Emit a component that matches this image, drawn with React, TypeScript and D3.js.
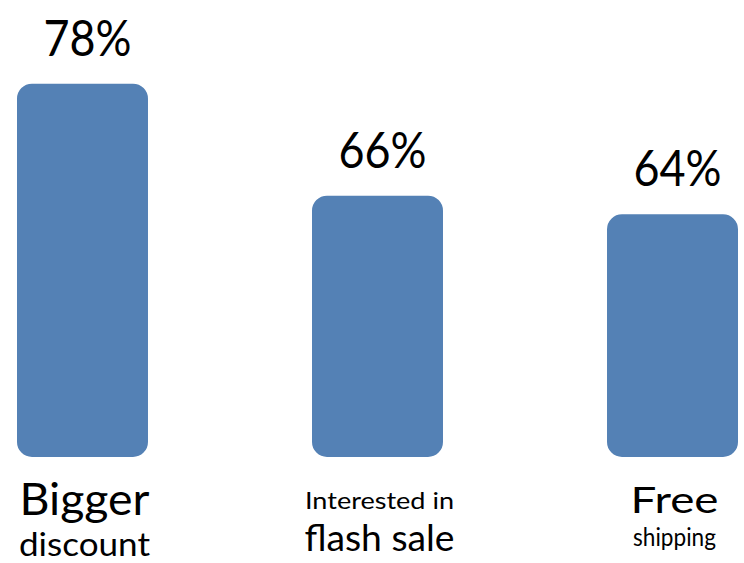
import React from "react";
import * as d3 from "d3";

const categories = ["Bigger discount", "Interested in flash sale", "Free shipping"];
const values = [78, 66, 64];
const labelLine1 = ["Bigger", "Interested in", "Free"];
const labelLine2 = ["discount", "flash sale", "shipping"];

const W = 744;
const H = 563;
const FONT = "Lato, 'Open Sans', sans-serif";
const COLOR = "#5481B5";

// per-category text styling
const line1Size = [44, 24, 37];
const line2Size = [32, 37, 25];
const line1Len = [130, 149, 88];
const line2Len = [131, 150, 83];
const line1Base = [515, 509, 513];
const line2Base = [556, 551, 546];

export default function App() {
  const x = d3.scaleBand<string>().domain(categories).range([17, 738]).paddingInner(0.556).paddingOuter(0);
  const y = d3.scaleLinear().domain([38, 80]).range([457, 65]);
  const bw = x.bandwidth();
  return (
    <svg width={W} height={H} style={{ position: "absolute", left: 0, top: 0, background: "#fff" }} fontFamily={FONT}>
      {categories.map((c, i) => {
        const x0 = x(c)!;
        const cx = x0 + bw / 2;
        const top = y(values[i]);
        const bottom = y(38);
        const r = 15;
        const p = d3.path();
        p.moveTo(x0 + r, top);
        p.lineTo(x0 + bw - r, top);
        p.arcTo(x0 + bw, top, x0 + bw, top + r, r);
        p.lineTo(x0 + bw, bottom - r);
        p.arcTo(x0 + bw, bottom, x0 + bw - r, bottom, r);
        p.lineTo(x0 + r, bottom);
        p.arcTo(x0, bottom, x0, bottom - r, r);
        p.lineTo(x0, top + r);
        p.arcTo(x0, top, x0 + r, top, r);
        p.closePath();
        return (
          <g key={c}>
            <path d={p.toString()} fill={COLOR} />
            <text transform={`translate(${cx + 5},${top - 28}) scale(0.88,1)`} textAnchor="middle" fontSize={51} fill="#000">
              {values[i]}%
            </text>
            <text x={cx + 2} y={line1Base[i]} textAnchor="middle" fontSize={line1Size[i]} fill="#000"
              textLength={line1Len[i]} lengthAdjust="spacingAndGlyphs">
              {labelLine1[i]}
            </text>
            <text x={cx + 2} y={line2Base[i]} textAnchor="middle" fontSize={line2Size[i]} fill="#000"
              textLength={line2Len[i]} lengthAdjust="spacingAndGlyphs">
              {labelLine2[i]}
            </text>
          </g>
        );
      })}
    </svg>
  );
}
